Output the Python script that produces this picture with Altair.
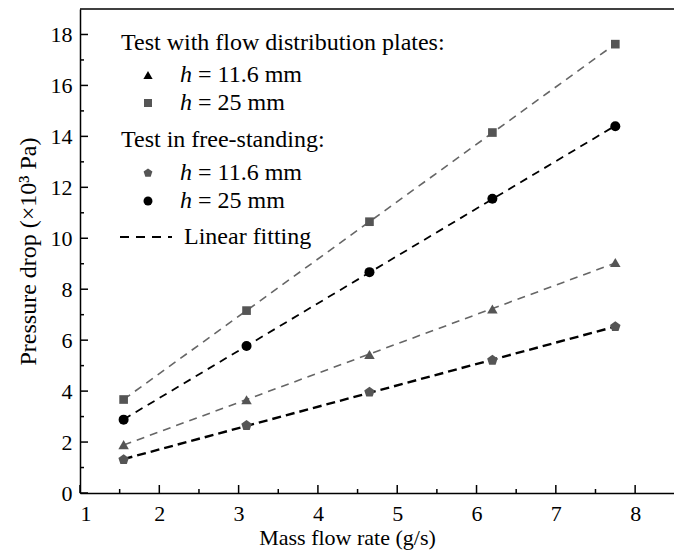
import altair as alt
import pandas as pd

# ---- data ----
mass_flow = [1.55, 3.1, 4.65, 6.2, 7.75]
plates_h116 = [1.90, 3.66, 5.44, 7.22, 9.05]
plates_h25 = [3.67, 7.16, 10.65, 14.15, 17.62]
free_h116 = [1.31, 2.65, 3.96, 5.21, 6.53]
free_h25 = [2.88, 5.77, 8.67, 11.55, 14.40]

x_major = [1, 2, 3, 4, 5, 6, 7, 8]
x_minor = [1.5, 2.5, 3.5, 4.5, 5.5, 6.5, 7.5, 8.5]
y_major = [0, 2, 4, 6, 8, 10, 12, 14, 16, 18]
y_minor = [1, 3, 5, 7, 9, 11, 13, 15, 17]

W, H = 594, 484
FONT = "Liberation Serif"
GRAY = "#555555"
PENTAGON = "M0,-1L0.951,-0.309L0.588,0.809L-0.588,0.809L-0.951,-0.309Z"
AX_FS = 22
LG_FS = 24

xs = alt.Scale(domain=[1, 8.49], nice=False, zero=False)
ys = alt.Scale(domain=[0, 19], nice=False, zero=False)
x_axis = alt.Axis(
    values=x_major,
    format="d",
    title="Mass flow rate (g/s)",
    titleX=267,
    titlePadding=3,
    labelPadding=10,
)
y_axis = alt.Axis(
    values=y_major,
    format="d",
    title="Pressure drop (×10³ Pa)",
    titleFontSize=24,
    titlePadding=10,
    labelPadding=8,
)


def X(field):
    return alt.X(field, type="quantitative", scale=xs, axis=x_axis)


def Y(field):
    return alt.Y(field, type="quantitative", scale=ys, axis=y_axis)


def series_df(vals):
    return pd.DataFrame({"m": mass_flow, "p": vals})


def fit_layer(vals, color, width, dash):
    return (
        alt.Chart(series_df(vals))
        .transform_regression("m", "p")
        .mark_line(color=color, strokeWidth=width, strokeDash=dash, clip=True)
        .encode(x=X("m"), y=Y("p"))
    )


def point_layer(vals, shape, color, size):
    return (
        alt.Chart(series_df(vals))
        .mark_point(shape=shape, filled=True, color=color, size=size, opacity=1)
        .encode(x=X("m"), y=Y("p"))
    )


x_major_ticks = (
    alt.Chart(pd.DataFrame({"m": x_major}))
    .mark_rule(color="black", strokeWidth=1.5)
    .encode(x=X("m"), y=alt.value(H), y2=alt.value(H - 8))
)
x_minor_ticks = (
    alt.Chart(pd.DataFrame({"m": x_minor}))
    .mark_rule(color="black", strokeWidth=1.5, clip=True)
    .encode(x=X("m"), y=alt.value(H), y2=alt.value(H - 4))
)
y_major_ticks = (
    alt.Chart(pd.DataFrame({"p": y_major}))
    .mark_rule(color="black", strokeWidth=1.5)
    .encode(y=Y("p"), x=alt.value(0), x2=alt.value(8))
)
y_minor_ticks = (
    alt.Chart(pd.DataFrame({"p": y_minor}))
    .mark_rule(color="black", strokeWidth=1.5)
    .encode(y=Y("p"), x=alt.value(0), x2=alt.value(4))
)
top_border = (
    alt.Chart(pd.DataFrame({"a": [0]}))
    .mark_rule(color="black", strokeWidth=1.5)
    .encode(x=alt.value(0), x2=alt.value(W), y=alt.value(0))
)


# ---- legend ----
def txt(s, x, y, italic=False):
    return (
        alt.Chart(pd.DataFrame({"a": [0]}))
        .mark_text(
            text=s,
            align="left",
            baseline="middle",
            font=FONT,
            fontSize=LG_FS,
            color="black",
            fontStyle="italic" if italic else "normal",
        )
        .encode(x=alt.value(x), y=alt.value(y))
    )


def sym(shape, color, size, x, y):
    return (
        alt.Chart(pd.DataFrame({"a": [0]}))
        .mark_point(shape=shape, filled=True, color=color, size=size, opacity=1)
        .encode(x=alt.value(x), y=alt.value(y))
    )


def hlabel(val, y):
    return [txt("h", 100, y, italic=True), txt("= " + val, 118, y)]


legend = [
    txt("Test with flow distribution plates:", 41, 34),
    sym("triangle-up", "black", 85, 68, 66),
    *hlabel("11.6 mm", 66),
    sym("square", GRAY, 65, 68, 94),
    *hlabel("25 mm", 94),
    txt("Test in free-standing:", 41, 131),
    sym(PENTAGON, GRAY, 85, 68, 164),
    *hlabel("11.6 mm", 164),
    sym("circle", "black", 80, 68, 192),
    *hlabel("25 mm", 192),
    alt.Chart(pd.DataFrame({"a": [0]}))
    .mark_rule(color="black", strokeWidth=2, strokeDash=[9, 7])
    .encode(x=alt.value(40), x2=alt.value(92), y=alt.value(228)),
    txt("Linear fitting", 104, 228),
]

chart = (
    alt.layer(
        fit_layer(plates_h25, "#666666", 1.6, [8, 6]),
        fit_layer(free_h25, "black", 1.8, [8, 6]),
        fit_layer(plates_h116, "#666666", 1.6, [8, 6]),
        fit_layer(free_h116, "black", 2.4, [9, 5]),
        point_layer(plates_h25, "square", GRAY, 75),
        point_layer(free_h25, "circle", "black", 100),
        point_layer(plates_h116, "triangle-up", GRAY, 110),
        point_layer(free_h116, PENTAGON, GRAY, 120),
        x_major_ticks,
        x_minor_ticks,
        y_major_ticks,
        y_minor_ticks,
        top_border,
        *legend,
    )
    .properties(
        width=W,
        height=H,
        autosize=alt.AutoSizeParams(type="none"),
        padding={"left": 80, "top": 9, "right": 0, "bottom": 65},
    )
    .configure_view(stroke=None)
    .configure_axis(
        grid=False,
        ticks=False,
        domainColor="black",
        domainWidth=1.5,
        labelFont=FONT,
        labelFontSize=AX_FS,
        labelColor="black",
        titleFont=FONT,
        titleFontSize=AX_FS,
        titleFontWeight="normal",
        titleColor="black",
    )
)

chart.save("out.html", embed_options={"renderer": "svg", "actions": False})
